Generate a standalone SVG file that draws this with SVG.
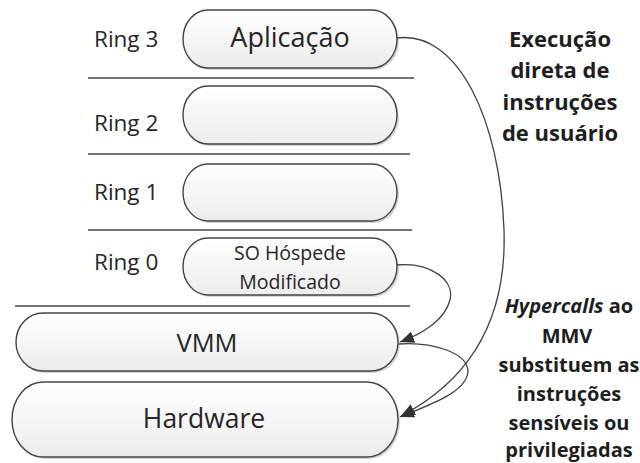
<svg xmlns="http://www.w3.org/2000/svg" width="640" height="463" viewBox="0 0 640 463">
  <style>
    .box { fill: url(#boxFill); stroke: #444; stroke-width: 1.4; }
    .shadow { fill: #d6d6d6; }
    .sep { stroke: #444; stroke-width: 1.5; }
    .ring { font-family: "Open Sans", "Noto Sans", sans-serif; font-size: 22.5px; fill: #262626; }
    .lbl { font-family: "Open Sans", "Noto Sans", sans-serif; fill: #262626; text-anchor: middle; }
    .note { font-family: "Open Sans", "Noto Sans", sans-serif; font-weight: 700; fill: #1e1e1e; text-anchor: middle; }
    .conn { fill: none; stroke: #404040; stroke-width: 1.3; }
  </style>
  <defs>
    <linearGradient id="boxFill" x1="0" y1="0" x2="0" y2="1">
      <stop offset="0" stop-color="#ffffff"/>
      <stop offset="1" stop-color="#ececec"/>
    </linearGradient>
    <marker id="arrow" markerUnits="userSpaceOnUse" markerWidth="16" markerHeight="12" refX="14" refY="6" orient="auto">
      <path d="M0,0 L14,6 L0,12 Z" fill="#333"/>
    </marker>
  </defs>

  <rect width="640" height="463" fill="#ffffff"/>

  <!-- ring separators -->
  <g id="separators">
    <line class="sep" x1="88" y1="78" x2="414" y2="78"/>
    <line class="sep" x1="88" y1="154" x2="410" y2="154"/>
    <line class="sep" x1="88" y1="230" x2="412" y2="230"/>
    <line class="sep" x1="15" y1="306" x2="410" y2="306"/>
  </g>

  <!-- ring labels -->
  <g id="ring-labels">
    <text class="ring" x="94" y="47">Ring 3</text>
    <text class="ring" x="94" y="131">Ring 2</text>
    <text class="ring" x="94" y="200">Ring 1</text>
    <text class="ring" x="94" y="270">Ring 0</text>
  </g>

  <g id="aplicacao">
    <rect class="shadow" x="185" y="12" width="214" height="58" rx="25" ry="29"/>
    <rect class="box" x="183" y="10" width="214" height="58" rx="25" ry="29"/>
    <text class="lbl" x="290" y="47" font-size="27">Aplicação</text>
  </g>

  <g id="ring2-box">
    <rect class="shadow" x="185" y="88" width="214" height="58" rx="25" ry="29"/>
    <rect class="box" x="183" y="86" width="214" height="58" rx="25" ry="29"/>
  </g>

  <g id="ring1-box">
    <rect class="shadow" x="185" y="166" width="214" height="57" rx="25" ry="28.5"/>
    <rect class="box" x="183" y="164" width="214" height="57" rx="25" ry="28.5"/>
  </g>

  <g id="so-hospede">
    <rect class="shadow" x="185" y="240" width="214" height="57" rx="25" ry="28.5"/>
    <rect class="box" x="183" y="238" width="214" height="57" rx="25" ry="28.5"/>
    <text class="lbl" x="290" y="260" font-size="19.5">SO Hóspede</text>
    <text class="lbl" x="290" y="289" font-size="19.5">Modificado</text>
  </g>

  <g id="vmm">
    <rect class="shadow" x="18" y="315" width="382" height="58" rx="27" ry="29"/>
    <rect class="box" x="16" y="313" width="382" height="58" rx="27" ry="29"/>
    <text class="lbl" x="207" y="352" font-size="25.5">VMM</text>
  </g>

  <g id="hardware">
    <rect class="shadow" x="14" y="384" width="386" height="75" rx="31" ry="37.5"/>
    <rect class="box" x="12" y="382" width="386" height="75" rx="31" ry="37.5"/>
    <text class="lbl" x="204" y="428" font-size="26.5">Hardware</text>
  </g>

  <!-- connectors -->
  <g id="connectors">
    <path class="conn" d="M397,38 C458,30 500,120 504,230 C507,320 470,380 401,416" marker-end="url(#arrow)"/>
    <path class="conn" d="M397,265 C430,262 455,280 450,300 C445,320 422,334 400,342" marker-end="url(#arrow)"/>
    <path class="conn" d="M399,344 C432,342 468,352 468,372 C466,392 432,404 400,417" marker-end="url(#arrow)"/>
  </g>

  <!-- annotations -->
  <g id="note-top">
    <text class="note" font-size="22" x="560" y="47">Execução</text>
    <text class="note" font-size="22" x="560" y="78">direta de</text>
    <text class="note" font-size="22" x="560" y="110">instruções</text>
    <text class="note" font-size="22" x="560" y="141">de usuário</text>
  </g>
  <g id="note-bottom">
    <text class="note" font-size="20" x="569" y="313"><tspan font-style="italic">Hypercalls</tspan> ao</text>
    <text class="note" font-size="20" x="567" y="343">MMV</text>
    <text class="note" font-size="20" x="569" y="372">substituem as</text>
    <text class="note" font-size="20" x="569" y="401">instruções</text>
    <text class="note" font-size="20" x="569" y="430">sensíveis ou</text>
    <text class="note" font-size="20" x="569" y="457">privilegiadas</text>
  </g>
</svg>
